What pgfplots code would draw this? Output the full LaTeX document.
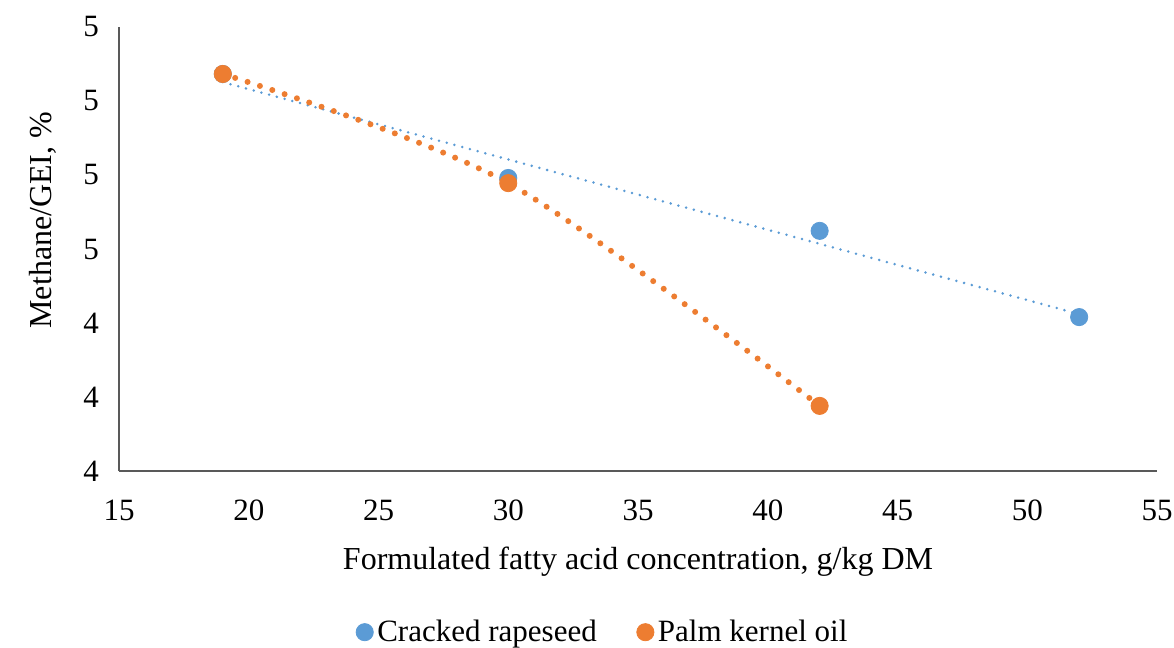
\documentclass[border=0pt]{standalone}
\usepackage{pgfplots}
\pgfplotsset{compat=1.18}
\usepackage{fontspec}
\setmainfont{Liberation Serif}
\definecolor{cblue}{HTML}{5B9BD5}
\definecolor{corange}{HTML}{ED7D31}
\begin{document}
\begin{tikzpicture}
\begin{axis}[
  scale only axis,
  width=519pt, height=222pt,
  xmin=15, xmax=55, ymin=4, ymax=5.2,
  xtick={15,20,...,55},
  ytick={4,4.2,4.4,4.6,4.8,5,5.2},
  yticklabels={4,4,4,5,5,5,5},
  /pgf/number format/assume math mode=true,
  axis x line*=bottom, axis y line*=left,
  axis line style={black!65, line width=1pt, -},
  major tick length=0pt,
  tick label style={font=\fontsize{15.5}{18}\selectfont},
  yticklabel style={xshift=-6.5pt},
  xticklabel style={yshift=-11pt},
  xlabel={Formulated fatty acid concentration, g/kg DM},
  ylabel={Methane/GEI, \%},
  label style={font=\fontsize{16}{19}\selectfont},
  xlabel style={yshift=-6pt},
  ylabel style={at={(ticklabel cs:0.565)}, yshift=6.5pt},
  legend columns=2,
  legend style={at={(0.467,-0.363)}, anchor=center, draw=none,
    font=\fontsize{15.5}{18}\selectfont,
    /tikz/every even column/.append style={column sep=18pt}},
  legend cell align=left,
  clip=false,
]
\coordinate (sw) at (rel axis cs:0,0);
\coordinate (ne) at (rel axis cs:1,1);
% trendlines (not in legend)
\addplot[cblue, line width=1.4pt, line cap=round, dash pattern=on 0pt off 4pt, forget plot]
  coordinates {(19,5.051) (52,4.424)};
\addplot[corange, line width=3pt, line cap=round, dash pattern=on 0pt off 6.5pt, smooth, forget plot]
  coordinates {(19,5.073) (30,4.778) (42,4.176)};
% data
\addplot[only marks, mark=*, mark size=4.3pt, cblue, mark options={draw=cblue, fill=cblue}]
  coordinates {(19,5.073) (30,4.792) (42,4.649) (52,4.416)};
\addlegendentry{Cracked rapeseed}
\addplot[only marks, mark=*, mark size=4.3pt, corange, mark options={draw=corange, fill=corange}]
  coordinates {(19,5.073) (30,4.778) (42,4.176)};
\addlegendentry{Palm kernel oil}
\end{axis}
\pgfresetboundingbox
\path ([shift={(-59.5pt,-88pt)}]sw) rectangle ([shift={(8.5pt,13.5pt)}]ne);
\end{tikzpicture}
\end{document}
